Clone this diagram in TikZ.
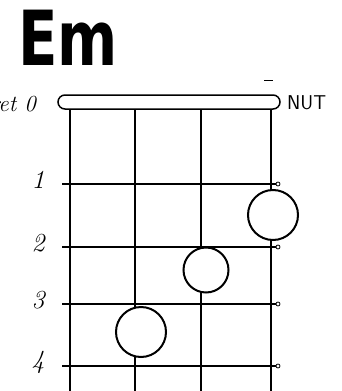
\documentclass[tikz,border=0pt]{standalone}
\usepackage{fontspec}
\newfontfamily\chordfont{DejaVu Sans}
\usetikzlibrary{positioning}

\begin{document}
\begin{tikzpicture}[
  x=1pt, y=-1pt,
  wire/.style={line width=1.1pt},
  fretline/.style={line width=1.5pt},
  finger/.style={draw, circle, fill=white, line width=2pt, inner sep=0pt},
  fretnum/.style={font=\itshape\fontsize{26}{26}\selectfont, inner sep=0pt},
  hand/.style={font=\fontsize{18}{18}\selectfont, inner sep=0pt}
]
\useasboundingbox (0,0) rectangle (341,391);
\clip (0,0) rectangle (341,391);

% chord name
\node[font=\chordfont\bfseries\fontsize{76}{76}\selectfont, xscale=0.76,
      anchor=north west, inner sep=0pt] (title) at (18,10) {Em};
\draw[line width=1pt] (264,80) -- (273,80);

% nut and its labels
\node[draw, rounded corners=7pt, line width=1.5pt, minimum width=222pt,
      minimum height=14pt] (nut) at (169,102) {};
\node[hand, font=\itshape\fontsize{23}{23}\selectfont, anchor=east] (fret0) at (36,104) {Fret 0};
\node[hand, font=\sffamily\fontsize{20}{20}\selectfont, anchor=west] (nutlabel) at (287,103) {NUT};

% strings
\foreach \x [count=\i] in {70,135,201,271} {
  \coordinate (s\i) at (\x,391);
  \draw[wire] (s\i |- nut.south) -- (s\i);
}

% frets
\foreach \y [count=\i] in {184,247,304,366} {
  \coordinate (r\i) at (62,\y);
  \draw[fretline] (r\i) -- ++(214,0) coordinate (e\i);
  \draw[line width=0.8pt] (e\i) ++(2,0) circle (2);
  \node[fretnum] (num\i) at (38,\y-4) {\i};
}

% fingers
\node[finger, minimum size=50pt] (f1) at (273,215) {};
\node[finger, minimum size=45pt] (f2) at (206,270) {};
\node[finger, minimum size=50pt] (f3) at (141,332) {};
\end{tikzpicture}
\end{document}
